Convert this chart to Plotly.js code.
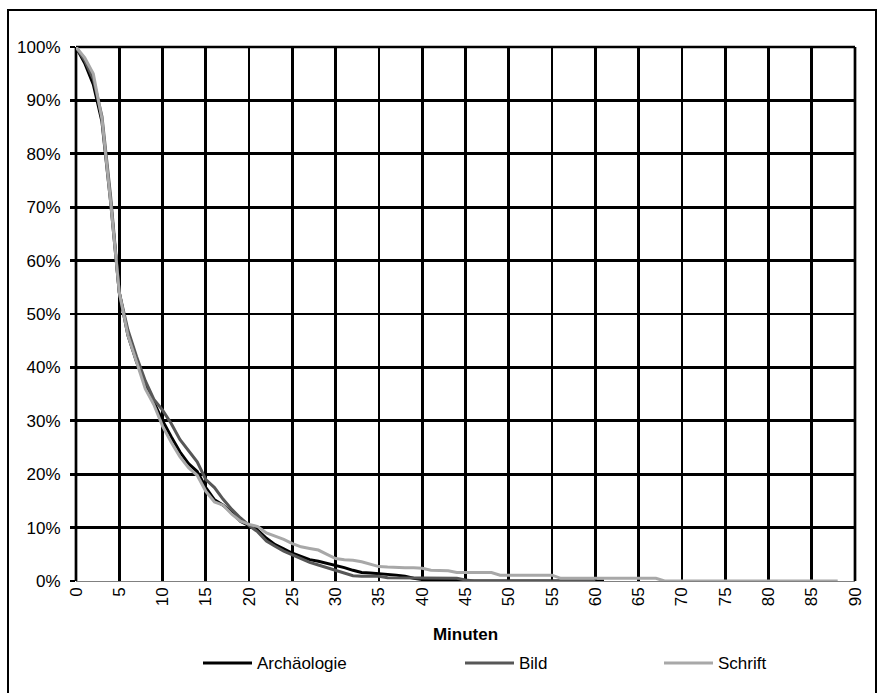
<!DOCTYPE html>
<html>
<head>
<meta charset="utf-8">
<script src="https://cdn.plot.ly/plotly-3.0.1.min.js"></script>
<style>
html,body{margin:0;padding:0;background:#fff;}
#chart{width:884px;height:693px;}
</style>
</head>
<body>
<div id="chart"></div>
<script>
// Minutes (x values)
const minutes = [0,1,2,3,4,5,6,7,8,9,10,11,12,13,14,15,16,17,18,19,20,21,22,23,24,25,26,27,28,29,30,31,32,33,34,35,36,37,38,39,40,41,42,43,44,45,46,47,48,49,50,51,52,53,54,55,56,57,58,59,60,61,62,63,64,65,66,67,68,69,70,71,72,73,74,75,76,77,78,79,80,81,82,83,84,85,86,87,88];

const seriesNames = ["Archäologie", "Bild", "Schrift"];

// Values in percent
const archaeologie = [100,97,93,86,71,54,46,41,37,33.5,30,27,24.2,22,20.5,17.5,15.2,14.2,12.8,11.2,10.3,9.5,8,6.8,6,5.2,4.6,4,3.7,3.3,3,2.5,2,1.6,1.5,1.4,1.3,1.1,0.9,0.5,0.3,0.3,0.3,0.3,0.3,0,0,0,0,0,0,0,0,0,0,0,0,0,0,0,0,0];
const bild = [100,97.5,94,87,72,54,47,42,37.5,34,32,29.5,26.5,24.3,22.3,19,17.5,15.3,13.4,11.8,10.4,9.2,7.5,6.5,5.6,4.9,4.2,3.5,3,2.5,2,1.5,1,0.9,0.9,0.9,0.6,0.6,0.6,0.6,0.6,0.5,0.5,0.5,0.5,0.2,0,0,0,0,0,0,0,0,0,0,0,0,0,0,0];
const schrift = [100,98,95,86.5,71,54,46,41,36,33,29,26,23.3,21.2,19.8,16.8,14.8,14.2,12.5,11.2,10.6,10.2,9,8.4,7.8,7,6.4,6.1,5.8,5,4.2,4,3.9,3.6,3.2,2.7,2.6,2.5,2.5,2.5,2.4,2,2,1.9,1.6,1.6,1.6,1.6,1.6,1.1,1.1,1.1,1.1,1.1,1.1,1.1,0.5,0.5,0.5,0.5,0.5,0.5,0.5,0.5,0.5,0.5,0.5,0.5,0,0,0,0,0,0,0,0,0,0,0,0,0,0,0,0,0,0,0,0,0];

const xTicks = [0,5,10,15,20,25,30,35,40,45,50,55,60,65,70,75,80,85,90];
const yTicks = [0,10,20,30,40,50,60,70,80,90,100];

const colors = ["#000000", "#575757", "#a8a8a8"];
const allValues = [archaeologie, bild, schrift];

const FONT = "Liberation Sans, Arial, sans-serif";
const GRIDW = 2.7;

const traces = allValues.map((vals, i) => ({
  x: minutes.slice(0, vals.length),
  y: vals,
  name: seriesNames[i],
  type: "scatter",
  mode: "lines",
  line: {color: colors[i], width: 3},
  showlegend: false
}));

// plot area in px: left 76, right 855, top 47, bottom 581
const L = 76, R = 855, T = 47, B = 581;
const W = R - L, H = B - T;
const px = v => (v - L) / W;
const py = v => (B - v) / H;

const shapes = [
  // outer frame
  {type: "rect", xref: "paper", yref: "paper", x0: px(8), x1: px(876), y0: py(10), y1: py(720),
   line: {color: "#000", width: 2}, fillcolor: "rgba(0,0,0,0)", layer: "below"},
  // edge grid lines (left, right, top)
  {type: "line", xref: "paper", yref: "paper", x0: 0, x1: 0, y0: 0, y1: 1, line: {color: "#000", width: GRIDW}, layer: "below"},
  {type: "line", xref: "paper", yref: "paper", x0: 1, x1: 1, y0: 0, y1: 1, line: {color: "#000", width: GRIDW}, layer: "below"},
  {type: "line", xref: "paper", yref: "paper", x0: 0, x1: 1, y0: 1, y1: 1, line: {color: "#000", width: GRIDW}, layer: "below"}
];
const annotations = [];
// legend (manual)
const legendX = [203, 465, 664];
const legendY = 663;
seriesNames.forEach((n, i) => {
  shapes.push({type: "line", xref: "paper", yref: "paper",
    x0: px(legendX[i]), x1: px(legendX[i] + 49), y0: py(legendY), y1: py(legendY),
    line: {color: colors[i], width: 3}});
  annotations.push({xref: "paper", yref: "paper", x: px(legendX[i] + 52), y: py(legendY),
    xanchor: "left", yanchor: "middle", showarrow: false, text: n,
    font: {family: FONT, size: 17, color: "#000"}});
});

const layout = {
  width: 884, height: 693,
  margin: {l: L, r: 884 - R, t: T, b: 693 - B, pad: 0},
  paper_bgcolor: "#fff", plot_bgcolor: "#fff",
  showlegend: false,
  xaxis: {
    range: [0, 90], tickvals: xTicks, ticktext: xTicks.map(String),
    tickangle: -90, showgrid: true, gridcolor: "#000", gridwidth: GRIDW,
    zeroline: false, showline: false, ticks: "",
    ticklabelstandoff: 2,
    tickfont: {family: FONT, size: 17, color: "#000"},
    title: {text: "<b>Minuten</b>", font: {family: FONT, size: 17, color: "#000"}, standoff: 22},
    automargin: false, fixedrange: true
  },
  yaxis: {
    range: [0, 100], tickvals: yTicks, ticktext: yTicks.map(v => v + "%"),
    showgrid: true, gridcolor: "#000", gridwidth: GRIDW,
    zeroline: true, zerolinecolor: "#808080", zerolinewidth: 1,
    showline: false, ticks: "outside", ticklen: 5, tickwidth: GRIDW, tickcolor: "#000",
    ticklabelstandoff: 6,
    tickfont: {family: FONT, size: 17, color: "#000"},
    automargin: false, fixedrange: true
  },
  shapes: shapes,
  annotations: annotations
};

Plotly.newPlot("chart", traces, layout, {staticPlot: true, displayModeBar: false});
</script>
</body>
</html>
